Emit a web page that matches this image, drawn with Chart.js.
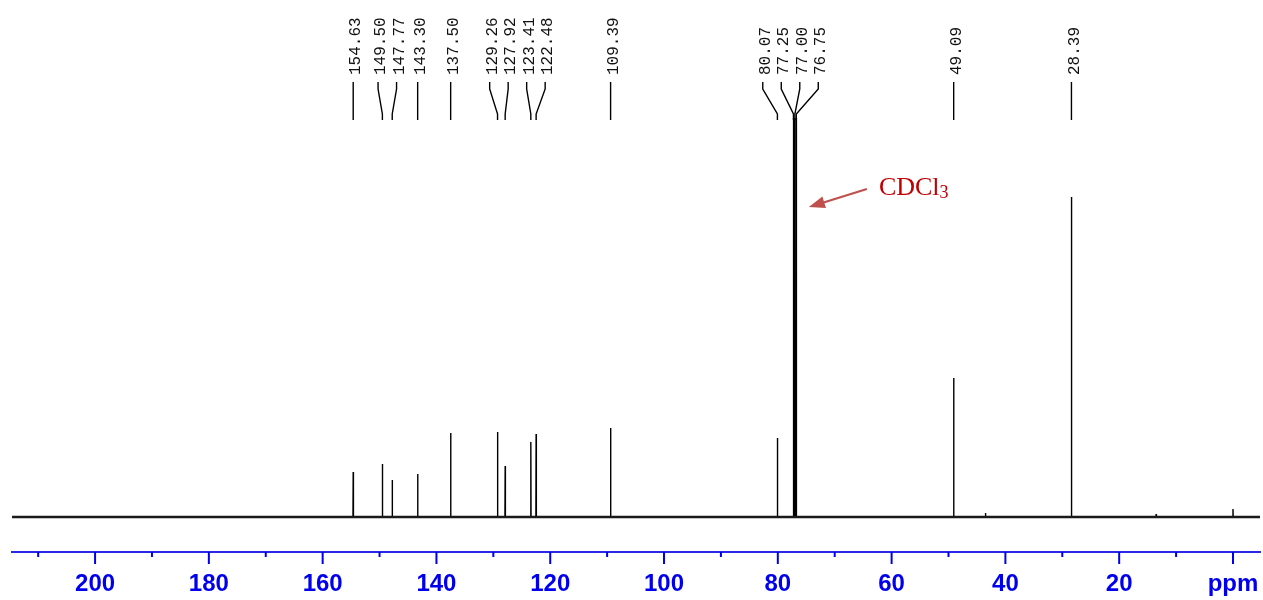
<!DOCTYPE html>
<html>
<head>
<meta charset="utf-8">
<script src="https://cdn.jsdelivr.net/npm/chart.js@4"></script>
<style>
  html, body { margin: 0; padding: 0; background: #fff; }
  #wrap { width: 1263px; height: 600px; }
</style>
</head>
<body>
<div id="wrap"><canvas id="spectrum" width="1263" height="600"></canvas></div>
<script>
// 13C NMR peaks (ppm) and their heights
const shifts = [154.63, 149.50, 147.77, 143.30, 137.50, 129.26, 127.92, 123.41, 122.48, 109.39, 80.07, 77.25, 77.00, 76.75, 49.09, 28.39]
const heights = [45, 53, 37, 43, 84, 85, 51, 75, 83, 89, 79, 410, 420, 410, 139, 320]

// small unlabelled bumps
const minorShifts = [43.5, 13.5, 0.0]
const minorHeights = [4, 3, 8]

// axis
const ppmMin = -4.75
const ppmMax = 214.6
const majorTicks = [200, 180, 160, 140, 120, 100, 80, 60, 40, 20, 0]
const unitLabel = 'ppm'
const solventLabel = 'CDCl'
const solventSub = '3'
const solventShift = 77.00

const BLUE = '#0000ee'

function buildSpectrum () {
  const all = shifts.map((s, i) => ({ s: s, h: heights[i] }))
    .concat(minorShifts.map((s, i) => ({ s: s, h: minorHeights[i] })))
    .sort((a, b) => b.s - a.s)
  const pts = [{ x: ppmMax, y: 0 }]
  const w = 0.04
  all.forEach((p) => {
    pts.push({ x: p.s + w, y: 0 }, { x: p.s, y: p.h }, { x: p.s - w, y: 0 })
  })
  pts.push({ x: ppmMin, y: 0 })
  return pts
}

// spread the labels so they don't overlap, centred on their peaks
function layoutLabels (xs, gap) {
  let groups = xs.map((x, i) => ({ idx: [i], center: x }))
  let merged = true
  while (merged) {
    merged = false
    for (let i = 0; i < groups.length - 1; i++) {
      const a = groups[i], b = groups[i + 1]
      const aRight = a.center + (a.idx.length - 1) * gap / 2
      const bLeft = b.center - (b.idx.length - 1) * gap / 2
      if (bLeft - aRight < gap) {
        const idx = a.idx.concat(b.idx)
        const center = idx.reduce((t, k) => t + xs[k], 0) / idx.length
        groups.splice(i, 2, { idx: idx, center: center })
        merged = true
        break
      }
    }
  }
  const out = []
  groups.forEach((g) => {
    g.idx.forEach((k, j) => {
      out[k] = g.center + (j - (g.idx.length - 1) / 2) * gap
    })
  })
  return out
}

const annotations = {
  id: 'annotations',
  afterDraw (chart) {
    const { ctx, scales: { x, y } } = chart
    const axisY = chart.chartArea.bottom

    // tick marks on the ppm axis
    ctx.save()
    ctx.strokeStyle = BLUE
    ctx.lineWidth = 2
    x.ticks.forEach((t) => {
      if (t.value % 10 !== 0) return
      const px = x.getPixelForValue(t.value)
      ctx.beginPath()
      ctx.moveTo(px, axisY)
      ctx.lineTo(px, axisY + (t.value % 20 === 0 ? 12 : 5))
      ctx.stroke()
    })
    ctx.restore()

    // peak labels with their leader lines
    const peakXs = shifts.map((s) => x.getPixelForValue(s))
    const labelXs = layoutLabels(peakXs, 18.5)
    ctx.save()
    ctx.strokeStyle = '#000'
    ctx.lineWidth = 1.4
    ctx.fillStyle = '#111'
    ctx.font = '16px "Liberation Mono", monospace'
    shifts.forEach((s, i) => {
      const lx = labelXs[i], px = peakXs[i]
      ctx.beginPath()
      ctx.moveTo(lx, 82)
      ctx.lineTo(lx, 89)
      ctx.lineTo(px, 114)
      ctx.lineTo(px, 120)
      ctx.stroke()
      ctx.save()
      ctx.translate(lx + 3, 75)
      ctx.rotate(-Math.PI / 2)
      ctx.textAlign = 'left'
      ctx.textBaseline = 'middle'
      ctx.fillText(s.toFixed(2), 0, 0)
      ctx.restore()
    })
    ctx.restore()

    // solvent arrow
    const tipX = x.getPixelForValue(solventShift) + 14
    const tipY = y.getPixelForValue(310)
    const tailX = tipX + 58, tailY = tipY - 18
    const ang = Math.atan2(tipY - tailY, tipX - tailX)
    ctx.save()
    ctx.strokeStyle = '#c0504d'
    ctx.fillStyle = '#c0504d'
    ctx.lineWidth = 2.2
    ctx.beginPath()
    ctx.moveTo(tailX, tailY)
    ctx.lineTo(tipX - 12 * Math.cos(ang), tipY - 12 * Math.sin(ang))
    ctx.stroke()
    ctx.beginPath()
    ctx.moveTo(tipX, tipY)
    ctx.lineTo(tipX - 16 * Math.cos(ang) + 6 * Math.sin(ang), tipY - 16 * Math.sin(ang) - 6 * Math.cos(ang))
    ctx.lineTo(tipX - 16 * Math.cos(ang) - 6 * Math.sin(ang), tipY - 16 * Math.sin(ang) + 6 * Math.cos(ang))
    ctx.closePath()
    ctx.fill()

    ctx.fillStyle = '#c00000'
    ctx.textAlign = 'left'
    ctx.textBaseline = 'alphabetic'
    ctx.font = '26px "Liberation Serif", serif'
    const tx = tipX + 70, ty = tipY - 12
    ctx.fillText(solventLabel, tx, ty)
    const wMain = ctx.measureText(solventLabel).width
    ctx.font = '18px "Liberation Serif", serif'
    ctx.fillText(solventSub, tx + wMain, ty + 3)
    ctx.restore()
  }
}

new Chart(document.getElementById('spectrum'), {
  type: 'line',
  data: {
    datasets: [
      {
        data: [{ x: ppmMax, y: 0 }, { x: ppmMin, y: 0 }],
        borderColor: '#1a1a1a',
        borderWidth: 2.6,
        pointRadius: 0,
        tension: 0
      },
      {
        data: buildSpectrum(),
        borderColor: '#000',
        borderWidth: 1.4,
        pointRadius: 0,
        tension: 0
      }
    ]
  },
  options: {
    responsive: false,
    animation: false,
    layout: { padding: { left: 12, right: 3, top: 118, bottom: 0 } },
    plugins: {
      legend: { display: false },
      tooltip: { enabled: false }
    },
    scales: {
      x: {
        type: 'linear',
        reverse: true,
        min: ppmMin,
        max: ppmMax,
        grid: { display: false, drawTicks: false },
        border: { display: true, color: '#2a2ae6', width: 2 },
        afterFit: (scale) => {
          scale.height = 48
          scale.paddingLeft = 0
          scale.paddingRight = 0
        },
        ticks: {
          stepSize: 10,
          includeBounds: false,
          autoSkip: false,
          maxRotation: 0,
          padding: 18,
          color: BLUE,
          font: { family: '"Liberation Sans", Arial, sans-serif', size: 24, weight: 'bold' },
          callback: (v) => {
            if (v === 0) return unitLabel
            return majorTicks.includes(v) ? String(v) : ''
          }
        }
      },
      y: {
        display: false,
        min: -35,
        max: 399
      }
    }
  },
  plugins: [annotations]
})
</script>
</body>
</html>
